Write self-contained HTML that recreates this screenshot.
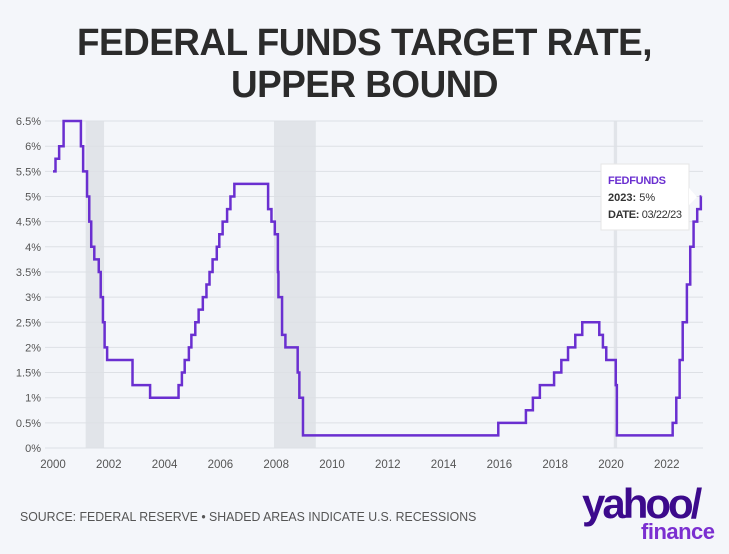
<!DOCTYPE html>
<html><head><meta charset="utf-8"><style>
body{margin:0;width:729px;height:554px;background:#f4f6fa;font-family:"Liberation Sans",sans-serif;overflow:hidden;position:relative}
h1{position:absolute;top:22px;left:0;width:729px;margin:0;text-align:center;font-size:38px;line-height:42px;font-weight:bold;color:#2b2b2b;letter-spacing:-0.5px;transform:scaleX(0.97)}
.src{position:absolute;left:20px;top:510px;font-size:12.5px;color:#555;transform:scaleX(0.985);transform-origin:left;white-space:nowrap}
.logo{position:absolute;left:582px;top:484px;color:#3c0a8c;font-weight:bold;font-size:42px;letter-spacing:-3px;line-height:40px}
.fin{position:absolute;left:641px;top:519px;color:#7b2fd0;font-weight:bold;font-size:22px;letter-spacing:-0.5px}
</style></head><body>
<h1>FEDERAL FUNDS TARGET RATE,<br>UPPER BOUND</h1>
<svg id="c" width="729" height="554" style="position:absolute;left:0;top:0"></svg>
<div class="src">SOURCE: FEDERAL RESERVE • SHADED AREAS INDICATE U.S. RECESSIONS</div>
<div class="logo">yahoo/</div>
<div class="fin">finance</div>
<script>
const years=[2000,2000.09,2000.22,2000.38,2001.0,2001.08,2001.22,2001.3,2001.37,2001.48,2001.64,2001.71,2001.79,2001.85,2001.94,2002.85,2003.48,2004.5,2004.62,2004.72,2004.87,2004.96,2005.1,2005.22,2005.37,2005.5,2005.61,2005.72,2005.87,2005.96,2006.08,2006.24,2006.36,2006.5,2007.71,2007.83,2007.95,2008.06,2008.08,2008.21,2008.33,2008.77,2008.83,2008.96,2015.96,2016.95,2017.2,2017.45,2017.96,2018.22,2018.46,2018.72,2018.97,2019.58,2019.71,2019.83,2020.17,2020.21,2022.21,2022.34,2022.46,2022.57,2022.72,2022.84,2022.96,2023.09,2023.22];
const rates=[5.5,5.75,6.0,6.5,6.0,5.5,5.0,4.5,4.0,3.75,3.5,3.0,2.5,2.0,1.75,1.25,1.0,1.25,1.5,1.75,2.0,2.25,2.5,2.75,3.0,3.25,3.5,3.75,4.0,4.25,4.5,4.75,5.0,5.25,4.75,4.5,4.25,3.5,3.0,2.25,2.0,1.5,1.0,0.25,0.5,0.75,1.0,1.25,1.5,1.75,2.0,2.25,2.5,2.25,2.0,1.75,1.25,0.25,0.5,1.0,1.75,2.5,3.25,4.0,4.5,4.75,5.0];
const recStart=[2001.17,2007.92,2020.1];
const recEnd=[2001.83,2009.42,2020.22];
const yTicks=[0,0.5,1,1.5,2,2.5,3,3.5,4,4.5,5,5.5,6,6.5];
const xTicks=[2000,2002,2004,2006,2008,2010,2012,2014,2016,2018,2020,2022];
const X=v=>53+(v-2000)*27.9, Y=v=>448-v*50.3;
const s=document.getElementById('c'),NS='http://www.w3.org/2000/svg';
function mk(t,a,p){const e=document.createElementNS(NS,t);for(const k in a)e.setAttribute(k,a[k]);(p||s).appendChild(e);return e;}
recStart.forEach((r,i)=>{const e=mk('rect',{x:X(r),y:Y(6.5),width:X(recEnd[i])-X(r),height:Y(0)-Y(6.5),fill:'#e1e4e9'});

});
yTicks.forEach(t=>{const l=mk('line',{x1:45,x2:703,y1:Y(t),y2:Y(t),stroke:'#dde0e5','stroke-width':1});


const tx=mk('text',{x:41,y:Y(t)+4,'text-anchor':'end','font-size':11,fill:'#555','font-family':'Liberation Sans Narrow, Liberation Sans, sans-serif'});tx.textContent=t+'%';

});
xTicks.forEach(t=>{const tx=mk('text',{x:X(t),y:468,'text-anchor':'middle','font-size':11.5,fill:'#555'});tx.textContent=t;

});
let d='';years.forEach((y,i)=>{d+=(i?'H'+X(y)+'V':'M'+X(y)+','+'')+Y(rates[i]);});
d+='H'+X(2023.24);
const p=mk('path',{d:d,fill:'none',stroke:'#6a2fd0','stroke-width':2.5,'stroke-linejoin':'miter'});


const g=mk('g',{});


mk('rect',{x:601,y:164,width:88,height:66,fill:'#fff',stroke:'#e6e6e6'},g);
mk('path',{d:'M689,188 L697,197 L689,205Z',fill:'#fff'},g);
const t1=mk('text',{x:608,y:184,'font-size':11,'font-weight':'bold',fill:'#6a2fd0',textLength:58},g);t1.textContent='FEDFUNDS';
const t2=mk('text',{x:608,y:201,'font-size':11,fill:'#333'},g);t2.innerHTML='<tspan font-weight="bold">2023:</tspan> 5%';
const t3=mk('text',{x:608,y:218,'font-size':11,fill:'#333',textLength:74},g);t3.innerHTML='<tspan font-weight="bold">DATE:</tspan> 03/22/23';
</script>
</body></html>
